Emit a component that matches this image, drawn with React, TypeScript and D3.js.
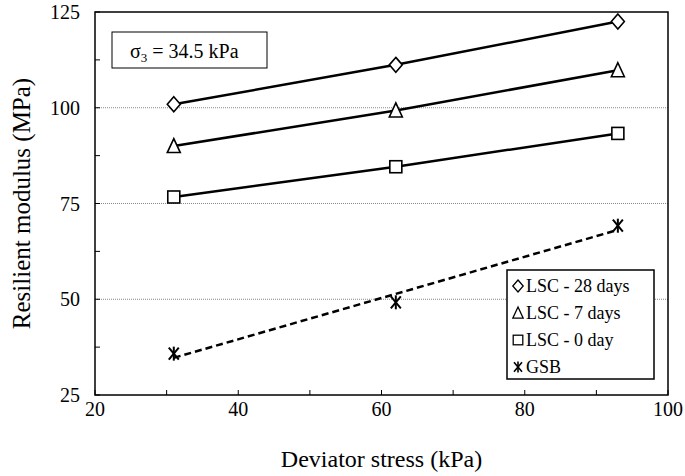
import React from "react";
import * as d3 from "d3";

const xValues = [31, 62, 93];
const lsc28 = [100.9, 111.2, 122.5];
const lsc7 = [90.0, 99.3, 109.8];
const lsc0 = [76.7, 84.6, 93.3];
const gsb = [35.8, 49.2, 69.2];
const xTicks = [20, 40, 60, 80, 100];
const yTicks = [25, 50, 75, 100, 125];
const legendLabels = ["LSC - 28 days", "LSC - 7 days", "LSC - 0 day", "GSB"];

const W = 685, H = 476;
const L = 95, R = 668, T = 12, B = 395;
const FONT = "'Liberation Serif', 'Times New Roman', serif";

function Marker({ kind, x, y }: { kind: string; x: number; y: number }) {
  const s = 6.5;
  if (kind === "diamond")
    return <path d={`M${x},${y - s - 1}L${x + s},${y}L${x},${y + s + 1}L${x - s},${y}Z`} fill="white" stroke="black" strokeWidth={1.6} />;
  if (kind === "triangle")
    return <path d={`M${x},${y - s - 1}L${x + s},${y + s}L${x - s},${y + s}Z`} fill="white" stroke="black" strokeWidth={1.6} />;
  if (kind === "square")
    return <rect x={x - s + 0.5} y={y - s + 0.5} width={2 * s - 1} height={2 * s - 1} fill="white" stroke="black" strokeWidth={1.6} />;
  return (
    <g stroke="black" strokeWidth={2}>
      <line x1={x - 5} y1={y - 6} x2={x + 5} y2={y + 6} />
      <line x1={x + 5} y1={y - 6} x2={x - 5} y2={y + 6} />
      <line x1={x} y1={y - 7} x2={x} y2={y + 7} />
    </g>
  );
}

export default function App() {
  const x = d3.scaleLinear().domain([20, 100]).range([L, R]);
  const y = d3.scaleLinear().domain([25, 125]).range([B, T]);
  const line = d3.line<[number, number]>().x((d) => x(d[0])).y((d) => y(d[1]));
  const series = [
    { v: lsc28, kind: "diamond" },
    { v: lsc7, kind: "triangle" },
    { v: lsc0, kind: "square" },
  ];
  const mx = d3.mean(xValues)!, my = d3.mean(gsb)!;
  const slope = d3.sum(xValues.map((xv, i) => (xv - mx) * (gsb[i] - my))) / d3.sum(xValues.map((xv) => (xv - mx) ** 2));
  const icpt = my - slope * mx;
  const trend: [number, number][] = [[31, icpt + slope * 31], [93, icpt + slope * 93]];
  const kinds = ["diamond", "triangle", "square", "star"];

  return (
    <svg width={W} height={H} style={{ position: "absolute", left: 0, top: 0, background: "white" }} fontFamily={FONT}>
      {[50, 75, 100].map((t) => (
        <line key={t} x1={L} x2={R} y1={y(t)} y2={y(t)} stroke="#888" strokeWidth={1} strokeDasharray="1,1" />
      ))}
      {d3.range(25, 126, 12.5).map((t) => (
        <line key={"yt" + t} x1={L} x2={L + 5} y1={y(t)} y2={y(t)} stroke="black" />
      ))}
      {d3.range(20, 101, 10).map((t) => (
        <line key={"xt" + t} x1={x(t)} x2={x(t)} y1={B} y2={B - 5} stroke="black" />
      ))}
      <rect x={L} y={T} width={R - L} height={B - T} fill="none" stroke="black" strokeWidth={1.5} />
      {yTicks.map((t) => (
        <text key={t} x={L - 15} y={y(t) + 7} textAnchor="end" fontSize={20}>{t}</text>
      ))}
      {xTicks.map((t) => (
        <text key={t} x={x(t)} y={B + 21} textAnchor="middle" fontSize={20}>{t}</text>
      ))}
      <text x={(L + R) / 2} y={467} textAnchor="middle" fontSize={24}>Deviator stress (kPa)</text>
      <text transform={`translate(30,${(T + B) / 2}) rotate(-90)`} textAnchor="middle" fontSize={25}>Resilient modulus (MPa)</text>
      {series.map((s, i) => (
        <g key={i}>
          <path d={line(xValues.map((xv, j) => [xv, s.v[j]] as [number, number]))!} fill="none" stroke="black" strokeWidth={2.5} />
          {xValues.map((xv, j) => <Marker key={j} kind={s.kind} x={x(xv)} y={y(s.v[j])} />)}
        </g>
      ))}
      <path d={line(trend)!} fill="none" stroke="black" strokeWidth={2.5} strokeDasharray="7,4" />
      {xValues.map((xv, j) => <Marker key={j} kind="star" x={x(xv)} y={y(gsb[j])} />)}
      <rect x={112} y={32} width={155} height={36} fill="white" stroke="black" strokeWidth={1} />
      <text x={130} y={58} fontSize={20}>σ<tspan fontSize={13} dy={4}>3</tspan><tspan dy={-4}> = 34.5 kPa</tspan></text>
      <rect x={507} y={270} width={147} height={109} fill="white" stroke="black" strokeWidth={1.5} />
      {legendLabels.map((lab, i) => (
        <g key={lab}>
          <g transform={`translate(${518},${286 + i * 27}) scale(0.8)`}><Marker kind={kinds[i]} x={0} y={0} /></g>
          <text x={526} y={292 + i * 27} fontSize={18}>{lab}</text>
        </g>
      ))}
    </svg>
  );
}
